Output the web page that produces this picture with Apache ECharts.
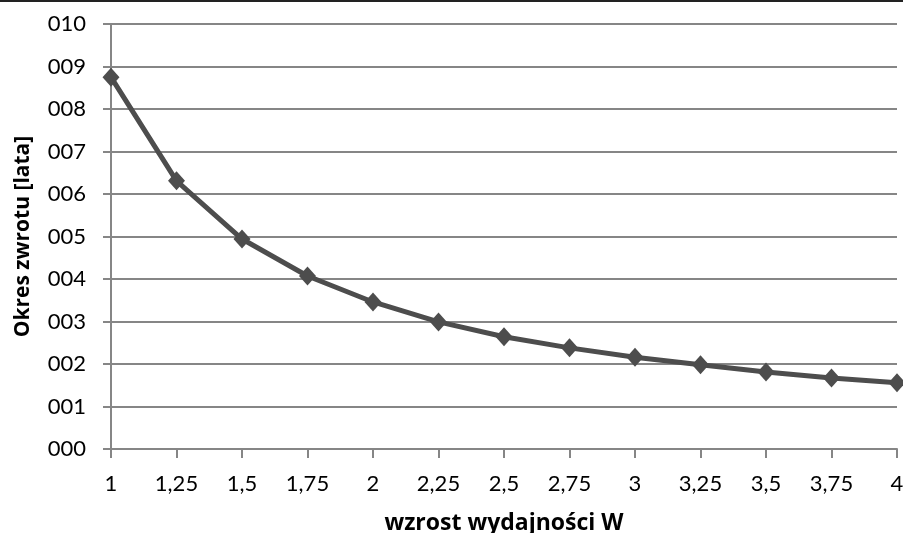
<!DOCTYPE html>
<html><head><meta charset="utf-8">
<script src="https://cdn.jsdelivr.net/npm/echarts@6/dist/echarts.min.js"></script>
<style>html,body{margin:0;padding:0;background:#fff}#c{width:903px;height:533px}</style>
</head><body><div id="c"></div>
<script>
const categories = ['1','1,25','1,5','1,75','2','2,25','2,5','2,75','3','3,25','3,5','3,75','4'];
const okresZwrotu = [8.75, 6.31, 4.94, 4.07, 3.46, 2.99, 2.64, 2.38, 2.16, 1.98, 1.81, 1.67, 1.56];
const yTitle = 'Okres zwrotu [lata]';
const xTitle = 'wzrost wydajności W';
const font = 'Lato, "Open Sans", sans-serif';
const titleFont = '"Open Sans", Lato, sans-serif';
const chart = echarts.init(document.getElementById('c'));
chart.setOption({
  animation: false,
  graphic: [{type:'rect', shape:{x:0,y:0,width:903,height:2}, style:{fill:'#222'}}],
  grid: {left: 111, right: 6, top: 24, bottom: 84, containLabel: false, outerBoundsMode: 'none'},
  xAxis: {
    type: 'category', data: categories, boundaryGap: false,
    name: xTitle, nameLocation: 'middle', nameGap: 63,
    nameTextStyle: {fontFamily: titleFont, fontWeight: 'bold', fontSize: 23, color: '#000'},
    axisLine: {lineStyle: {color: '#868686', width: 2}},
    axisTick: {show: true, length: 9, inside: false, lineStyle: {color: '#868686', width: 2}},
    axisLabel: {fontFamily: font, fontSize: 22, color: '#000', margin: 24},
    splitLine: {show: false}
  },
  yAxis: {
    type: 'value', min: 0, max: 10, interval: 1,
    name: yTitle, nameLocation: 'middle', nameGap: 77, nameRotate: 90,
    nameTextStyle: {fontFamily: titleFont, fontWeight: 'bold', fontSize: 21, color: '#000'},
    axisLine: {show: true, lineStyle: {color: '#868686', width: 2}},
    axisTick: {show: true, length: 8, lineStyle: {color: '#868686', width: 2}},
    axisLabel: {fontFamily: font, fontSize: 22, color: '#000', margin: 25,
      formatter: v => String(v).padStart(3, '0')},
    splitLine: {show: true, lineStyle: {color: '#868686', width: 2}}
  },
  series: [{
    type: 'line', data: okresZwrotu,
    symbol: 'diamond', symbolSize: [17, 19],
    lineStyle: {color: '#4d4d4d', width: 5},
    itemStyle: {color: '#4d4d4d'}
  }]
});
</script></body></html>
